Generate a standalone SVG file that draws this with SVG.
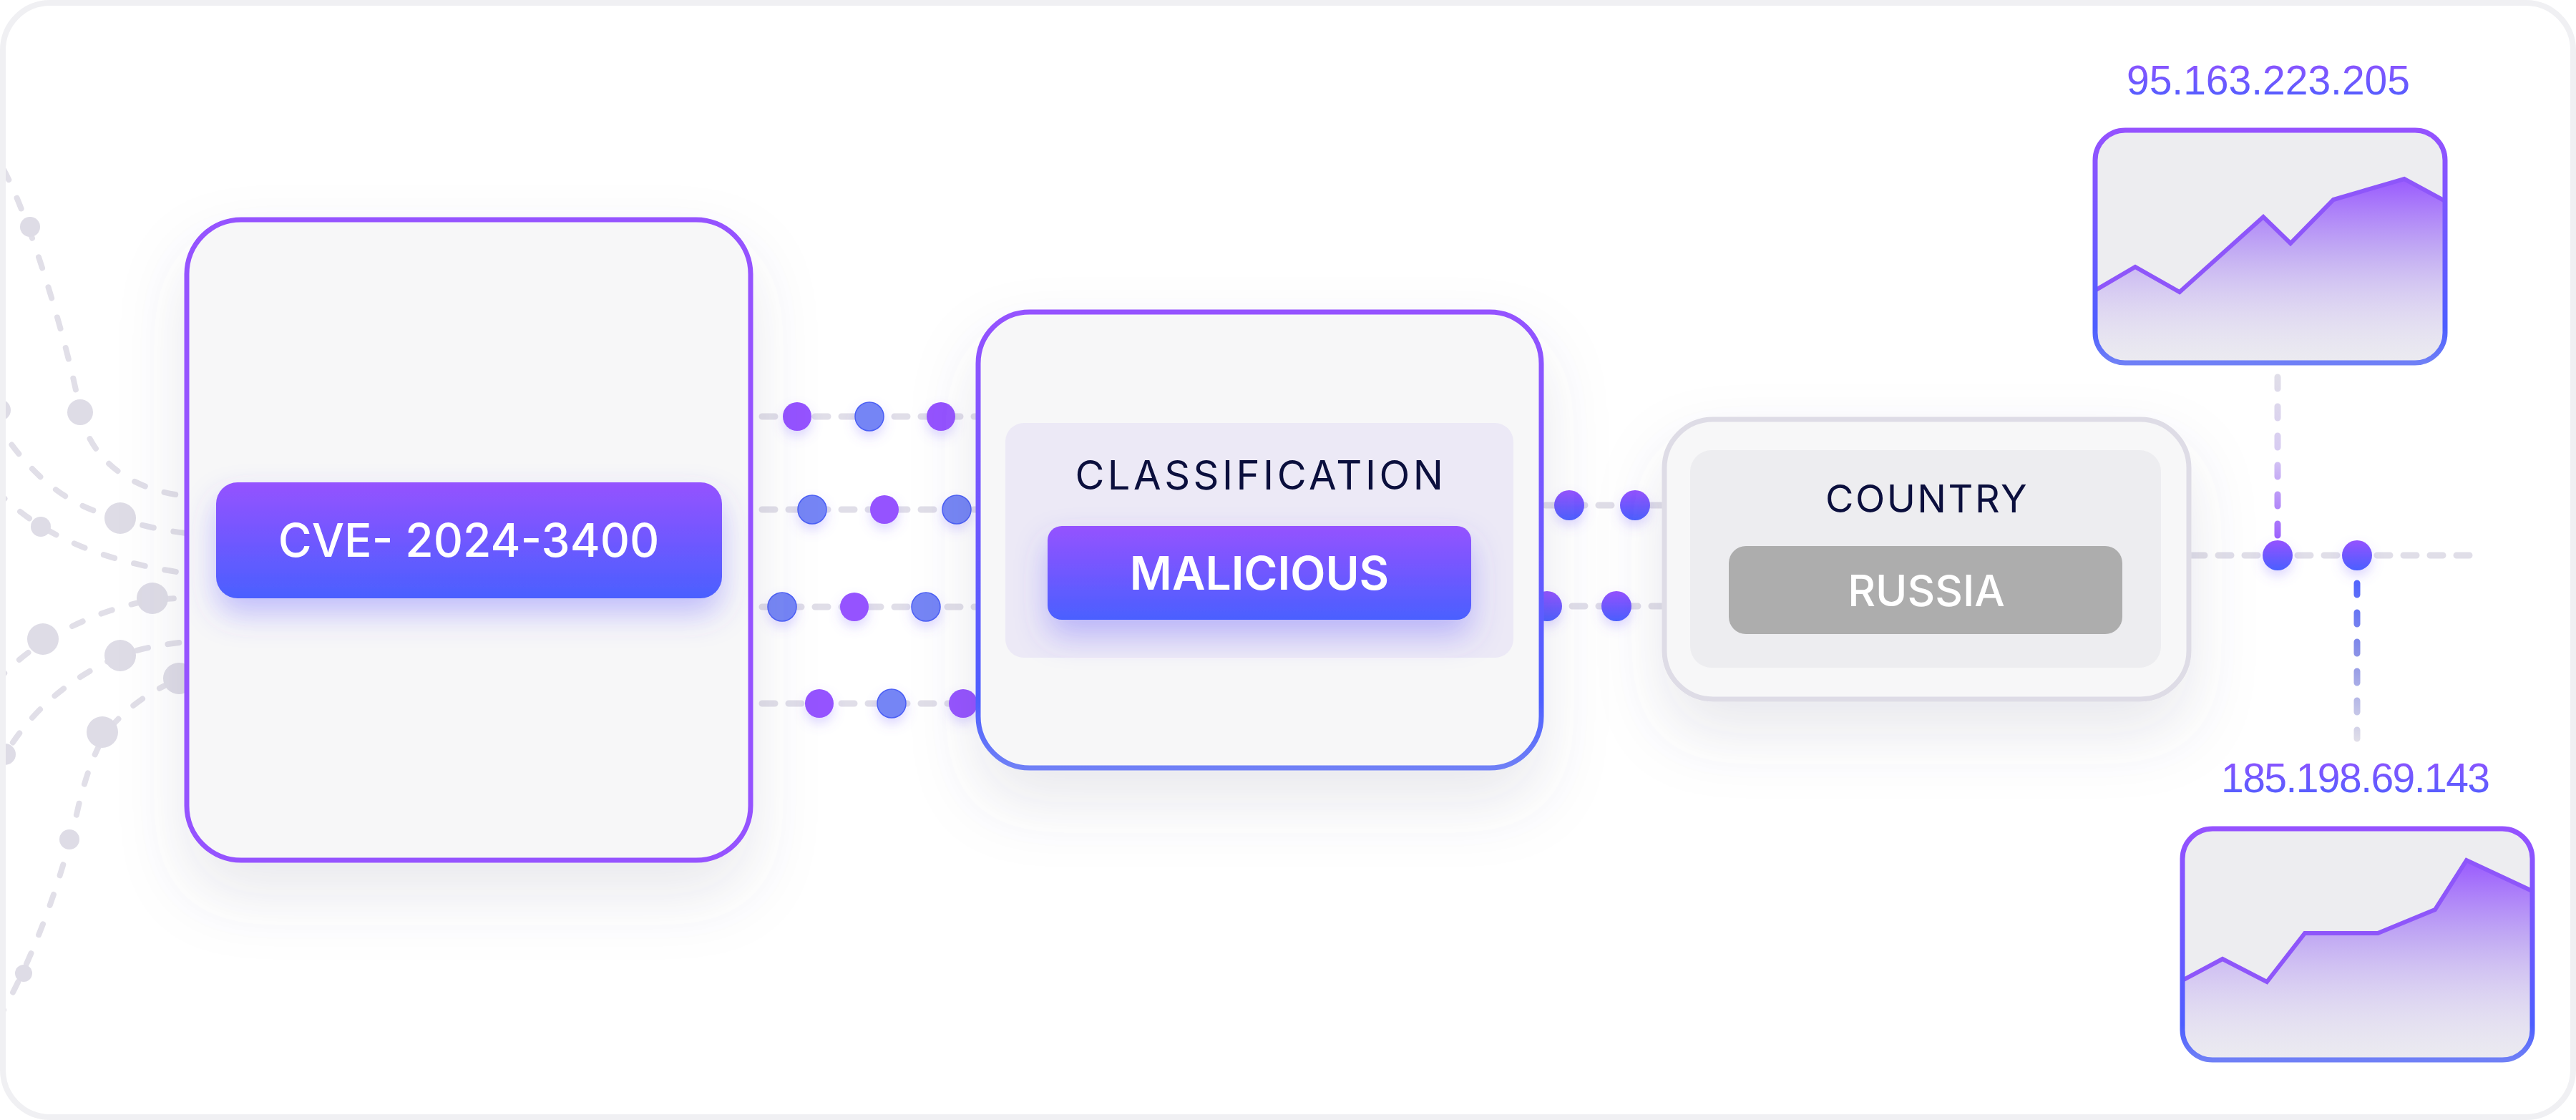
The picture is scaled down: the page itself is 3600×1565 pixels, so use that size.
<svg xmlns="http://www.w3.org/2000/svg" width="3600" height="1565" viewBox="0 0 3600 1565">
  <defs>
    <linearGradient id="gPB" x1="0" y1="0" x2="0" y2="1">
      <stop offset="0" stop-color="#9552FF"/>
      <stop offset="1" stop-color="#4A5FFF"/>
    </linearGradient>
    <linearGradient id="gStroke" x1="0" y1="0" x2="0" y2="1">
      <stop offset="0" stop-color="#9552FF"/>
      <stop offset="0.85" stop-color="#4D5EFF"/>
      <stop offset="1" stop-color="#6F80F6"/>
    </linearGradient>
    <linearGradient id="gArea" x1="0" y1="0" x2="0" y2="1">
      <stop offset="0" stop-color="#9552FF" stop-opacity="0.95"/>
      <stop offset="0.4" stop-color="#B597F4" stop-opacity="0.75"/>
      <stop offset="1" stop-color="#E4E1F2" stop-opacity="0.2"/>
    </linearGradient>
    <linearGradient id="gUp" gradientUnits="userSpaceOnUse" x1="0" y1="523" x2="0" y2="770">
      <stop offset="0" stop-color="#E0DEE8"/>
      <stop offset="0.45" stop-color="#D7CBF2"/>
      <stop offset="1" stop-color="#9552FF"/>
    </linearGradient>
    <linearGradient id="gDown" gradientUnits="userSpaceOnUse" x1="0" y1="800" x2="0" y2="1035">
      <stop offset="0" stop-color="#4A5FFF"/>
      <stop offset="0.5" stop-color="#8C93E6"/>
      <stop offset="1" stop-color="#E0DEE8"/>
    </linearGradient>
    <filter id="boxShadow" x="-40%" y="-40%" width="180%" height="200%">
      <feDropShadow dx="0" dy="45" stdDeviation="45" flood-color="#5a5a7a" flood-opacity="0.13"/>
    </filter>
    <filter id="pillShadow" x="-20%" y="-40%" width="140%" height="230%">
      <feDropShadow dx="0" dy="22" stdDeviation="22" flood-color="#5b4dff" flood-opacity="0.35"/>
    </filter>
    <filter id="dotShadow" x="-100%" y="-100%" width="300%" height="300%">
      <feDropShadow dx="0" dy="8" stdDeviation="8" flood-color="#7b61ff" flood-opacity="0.25"/>
    </filter>
    <clipPath id="clipC1"><rect x="2928" y="182" width="489" height="325" rx="42"/></clipPath>
    <clipPath id="clipC2"><rect x="3050" y="1158" width="489" height="323" rx="42"/></clipPath>
  </defs>
  <style>
    .gcurve { fill: none; stroke: #E1DFE8; stroke-width: 8; stroke-linecap: round; stroke-dasharray: 16 28; }
    .gdot { fill: #DEDCE6; }
    .dash { fill: none; stroke: #E0DEE8; stroke-width: 9; stroke-linecap: round; stroke-dasharray: 18 19; }
    .pdot { fill: #9552FF; filter: url(#dotShadow); }
    .bdot { fill: #7585F5; stroke: #4A5EF5; stroke-width: 1.5; filter: url(#dotShadow); }
    .gdotc { fill: url(#gPB); filter: url(#dotShadow); }
    .label { font-family: Inter, "Liberation Sans", sans-serif; }
    .ip { font-family: "Liberation Sans", Arial, sans-serif; font-size: 57px; fill: url(#gPB); }
  </style>

  <rect x="0" y="0" width="3600" height="1565" fill="#FFFFFF"/>

  <!-- left fan of gray curves -->
  <g id="left-curves">
    <path class="gcurve" d="M5 237 C40 300 95 480 112 575 C125 640 180 685 260 693"/>
    <path class="gcurve" d="M-8 585 C25 640 70 690 130 713 C170 727 215 740 260 745"/>
    <path class="gcurve" d="M-5 686 C40 730 110 780 260 801"/>
    <path class="gcurve" d="M-5 952 C30 915 70 885 143 857 C175 846 205 836 260 836"/>
    <path class="gcurve" d="M-5 1075 C30 1010 80 955 168 916 C200 905 230 900 260 897"/>
    <path class="gcurve" d="M-3 1425 C30 1370 80 1260 110 1125 C125 1065 140 1030 165 1005 C190 980 220 960 260 945"/>
    <circle class="gdot" cx="42" cy="317" r="14"/>
    <circle class="gdot" cx="112" cy="576" r="18"/>
    <circle class="gdot" cx="0" cy="573" r="15"/>
    <circle class="gdot" cx="168" cy="724" r="22"/>
    <circle class="gdot" cx="57" cy="736" r="14"/>
    <circle class="gdot" cx="60" cy="893" r="22"/>
    <circle class="gdot" cx="213" cy="836" r="22"/>
    <circle class="gdot" cx="7" cy="1054" r="15"/>
    <circle class="gdot" cx="168" cy="916" r="22"/>
    <circle class="gdot" cx="250" cy="948" r="22"/>
    <circle class="gdot" cx="143" cy="1023" r="22"/>
    <circle class="gdot" cx="97" cy="1173" r="14"/>
    <circle class="gdot" cx="33" cy="1360" r="12"/>
  </g>

  <!-- connectors -->
  <g id="connectors">
    <line class="dash" x1="1065" y1="582" x2="1367" y2="582"/>
    <line class="dash" x1="1065" y1="712" x2="1367" y2="712"/>
    <line class="dash" x1="1065" y1="848" x2="1367" y2="848"/>
    <line class="dash" x1="1065" y1="983" x2="1367" y2="983"/>
    <circle class="pdot" cx="1114" cy="582" r="20"/>
    <circle class="bdot" cx="1215" cy="582" r="20"/>
    <circle class="pdot" cx="1315" cy="582" r="20"/>
    <circle class="bdot" cx="1135" cy="712" r="20"/>
    <circle class="pdot" cx="1236" cy="712" r="20"/>
    <circle class="bdot" cx="1337" cy="712" r="20"/>
    <circle class="bdot" cx="1093" cy="848" r="20"/>
    <circle class="pdot" cx="1194" cy="848" r="20"/>
    <circle class="bdot" cx="1294" cy="848" r="20"/>
    <circle class="pdot" cx="1145" cy="983" r="20"/>
    <circle class="bdot" cx="1246" cy="983" r="20"/>
    <circle class="pdot" cx="1346" cy="983" r="20"/>

    <line class="dash" x1="2160" y1="706" x2="2327" y2="706"/>
    <line class="dash" x1="2160" y1="847" x2="2327" y2="847"/>
    <circle class="gdotc" cx="2193" cy="706" r="21"/>
    <circle class="gdotc" cx="2285" cy="706" r="21"/>
    <circle class="gdotc" cx="2162" cy="847" r="21"/>
    <circle class="gdotc" cx="2259" cy="847" r="21"/>

    <line class="dash" x1="3063" y1="776" x2="3461" y2="776" stroke-dasharray="19 20"/>
    <line x1="3183" y1="527" x2="3183" y2="760" fill="none" stroke="url(#gUp)" stroke-width="9" stroke-linecap="round" stroke-dasharray="16 25"/>
    <line x1="3294" y1="815" x2="3294" y2="1032" fill="none" stroke="url(#gDown)" stroke-width="9" stroke-linecap="round" stroke-dasharray="16 25"/>
    <circle class="gdotc" cx="3183" cy="776" r="21"/>
    <circle class="gdotc" cx="3294" cy="776" r="21"/>
  </g>

  <!-- CVE node -->
  <g id="node-cve">
    <rect x="261" y="307" width="788" height="895" rx="76" fill="#F7F7F8" stroke="#9552FF" stroke-width="7" filter="url(#boxShadow)"/>
    <rect x="302" y="674" width="707" height="162" rx="30" fill="url(#gPB)" filter="url(#pillShadow)"/>
    <text class="label" x="655" y="778" text-anchor="middle" font-size="64" font-weight="500" fill="#FFFFFF">CVE- 2024-3400</text>
  </g>

  <!-- Classification node -->
  <g id="node-classification">
    <rect x="1367" y="436" width="787" height="637" rx="72" fill="#F7F7F8" stroke="url(#gStroke)" stroke-width="7" filter="url(#boxShadow)"/>
    <rect x="1405" y="591" width="710" height="328" rx="26" fill="#ECE9F6"/>
    <text class="label" x="1762" y="684" text-anchor="middle" font-size="56" letter-spacing="4.5" fill="#0B0F3D">CLASSIFICATION</text>
    <rect x="1464" y="735" width="592" height="131" rx="20" fill="url(#gPB)" filter="url(#pillShadow)"/>
    <text class="label" x="1760" y="824" text-anchor="middle" font-size="64" font-weight="600" fill="#FFFFFF">MALICIOUS</text>
  </g>

  <!-- Country node -->
  <g id="node-country">
    <rect x="2326" y="586" width="733" height="391" rx="68" fill="#F7F7F8" stroke="#DEDCE6" stroke-width="7" filter="url(#boxShadow)"/>
    <rect x="2362" y="629" width="658" height="304" rx="30" fill="#EDEDF0"/>
    <text class="label" x="2693" y="716" text-anchor="middle" font-size="54" letter-spacing="2.5" fill="#0B0F3D">COUNTRY</text>
    <rect x="2416" y="763" width="550" height="123" rx="24" fill="#ADADAD"/>
    <text class="label" x="2692" y="847" text-anchor="middle" font-size="60" font-weight="500" fill="#FFFFFF">RUSSIA</text>
  </g>

  <!-- IP 1 node -->
  <g id="node-ip1">
    <text class="ip" x="3170" y="132" text-anchor="middle" textLength="396" lengthAdjust="spacing">95.163.223.205</text>
    <rect x="2928" y="182" width="489" height="325" rx="42" fill="#EDEDF0"/>
    <g clip-path="url(#clipC1)">
      <polygon points="2928,405 2984,373 3046,408 3163,303 3201,340 3261,279 3360,250 3417,280 3417,507 2928,507" fill="url(#gArea)"/>
      <polyline points="2924,408 2984,373 3046,408 3163,303 3201,340 3261,279 3360,250 3421,283" fill="none" stroke="#8E56FA" stroke-width="6" stroke-linejoin="miter"/>
    </g>
    <rect x="2928" y="182" width="489" height="325" rx="42" fill="none" stroke="url(#gStroke)" stroke-width="7"/>
  </g>

  <!-- IP 2 node -->
  <g id="node-ip2">
    <text class="ip" x="3292" y="1107" text-anchor="middle" textLength="376" lengthAdjust="spacing">185.198.69.143</text>
    <rect x="3050" y="1158" width="489" height="323" rx="42" fill="#EDEDF0"/>
    <g clip-path="url(#clipC2)">
      <polygon points="3050,1370 3106,1340 3168,1372 3221,1304 3323,1304 3403,1271 3447,1202 3539,1245 3539,1481 3050,1481" fill="url(#gArea)"/>
      <polyline points="3046,1372 3106,1340 3168,1372 3221,1304 3323,1304 3403,1271 3447,1202 3543,1247" fill="none" stroke="#8E56FA" stroke-width="6"/>
    </g>
    <rect x="3050" y="1158" width="489" height="323" rx="42" fill="none" stroke="url(#gStroke)" stroke-width="7"/>
  </g>

  <!-- outer frame -->
  <rect x="4" y="4" width="3592" height="1557" rx="66" fill="none" stroke="#F0F0F3" stroke-width="8"/>
</svg>
